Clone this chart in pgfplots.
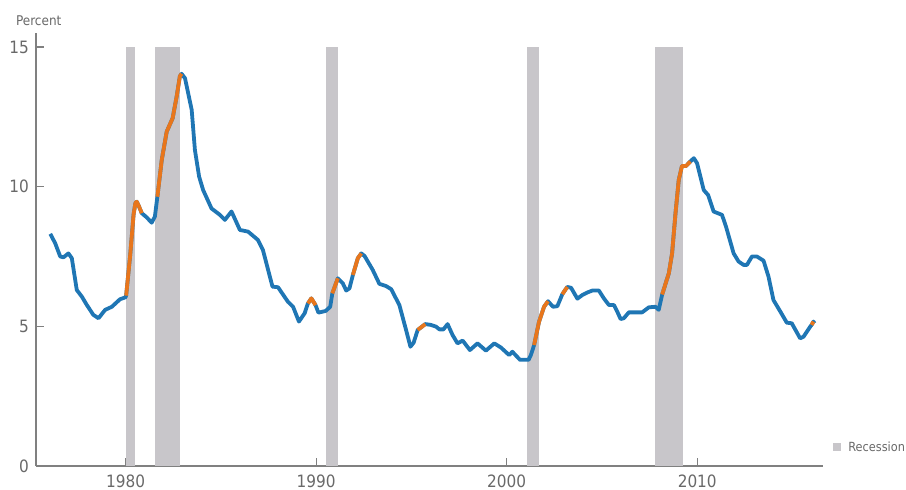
\documentclass[border=0pt]{standalone}
\usepackage{fontspec}
\setmainfont{DejaVu Sans Condensed}
\usepackage{pgfplots}
\pgfplotsset{compat=1.18}
\definecolor{lineblue}{RGB}{31,118,180}
\definecolor{lineorange}{RGB}{232,118,28}
\definecolor{recgray}{RGB}{200,198,202}
\definecolor{axisgray}{RGB}{128,128,128}
\definecolor{labelgray}{RGB}{105,105,105}

\pgfplotstableread{
x y
1976.05 8.31
1976.31 7.97
1976.57 7.50
1976.74 7.47
1977.00 7.61
1977.18 7.44
1977.44 6.30
1977.71 6.06
1977.97 5.76
1978.31 5.41
1978.58 5.29
1978.93 5.59
1979.28 5.70
1979.71 5.97
1980.00 6.04
1980.03 6.10
1980.25 7.60
1980.42 9.00
1980.52 9.42
1980.59 9.46
1980.70 9.30
1980.85 9.05
1981.11 8.90
1981.37 8.71
1981.54 8.93
1981.67 9.64
1981.90 10.96
1982.16 11.97
1982.47 12.45
1982.68 13.22
1982.85 13.95
1982.94 14.04
1983.12 13.88
1983.47 12.75
1983.64 11.31
1983.86 10.36
1984.07 9.88
1984.51 9.22
1984.95 8.99
1985.21 8.81
1985.56 9.11
1986.00 8.45
1986.43 8.39
1986.95 8.09
1987.21 7.73
1987.71 6.42
1988.00 6.40
1988.52 5.88
1988.79 5.70
1989.10 5.17
1989.40 5.47
1989.57 5.82
1989.75 6.00
1989.97 5.76
1990.12 5.49
1990.50 5.55
1990.74 5.70
1990.85 6.18
1991.14 6.72
1991.40 6.54
1991.58 6.28
1991.75 6.36
1991.93 6.84
1992.19 7.44
1992.37 7.61
1992.54 7.52
1992.97 7.02
1993.32 6.52
1993.67 6.44
1993.94 6.33
1994.37 5.76
1994.72 4.87
1994.95 4.27
1995.12 4.42
1995.33 4.87
1995.73 5.08
1996.03 5.05
1996.29 4.99
1996.47 4.89
1996.68 4.89
1996.90 5.08
1997.16 4.69
1997.42 4.39
1997.69 4.49
1998.07 4.15
1998.47 4.39
1998.91 4.13
1999.35 4.39
1999.70 4.24
2000.13 3.97
2000.30 4.09
2000.70 3.80
2001.15 3.80
2001.27 3.97
2001.44 4.33
2001.70 5.17
2001.96 5.70
2002.17 5.90
2002.43 5.70
2002.66 5.72
2002.92 6.15
2003.18 6.41
2003.38 6.38
2003.71 5.99
2003.97 6.12
2004.23 6.21
2004.49 6.28
2004.84 6.28
2005.10 6.00
2005.37 5.76
2005.63 5.76
2005.80 5.53
2005.98 5.26
2006.15 5.29
2006.41 5.50
2007.11 5.50
2007.46 5.68
2007.81 5.70
2007.98 5.59
2008.16 6.14
2008.51 6.90
2008.68 7.61
2008.86 9.05
2009.03 10.24
2009.20 10.74
2009.41 10.74
2009.64 10.90
2009.82 11.02
2009.99 10.84
2010.34 9.88
2010.57 9.70
2010.86 9.11
2011.30 8.99
2011.51 8.57
2011.91 7.61
2012.17 7.32
2012.43 7.20
2012.61 7.20
2012.87 7.50
2013.13 7.50
2013.48 7.35
2013.74 6.78
2014.00 5.94
2014.36 5.53
2014.70 5.13
2014.96 5.11
2015.40 4.57
2015.58 4.63
2015.93 4.99
2016.00 5.05
2016.10 5.17
2016.15 5.11
}\rate

\begin{document}
\begin{tikzpicture}
\begin{axis}[
  scale only axis, width=393.5pt, height=216.5pt,
  xmin=1975.3, xmax=2016.6, ymin=0, ymax=15.5,
  axis x line*=bottom, axis y line*=left,
  axis line style={axisgray, line width=0.6pt},
  xtick={1980,1990,2000,2010}, ytick={0,5,10,15},
  tick align=inside, major tick length=4pt,
  tick style={axisgray, line width=0.6pt},
  /pgf/number format/assume math mode=true,
  xticklabel style={/pgf/number format/1000 sep={}},
  ticklabel style={font=\fontsize{8.5}{10}\selectfont, text=labelgray},
  xticklabel shift=1pt, yticklabel shift=0pt,
  clip=false,
]
% recession bars
\addplot[fill=recgray, draw=none] coordinates {(1980.03,15) (1980.50,15)} \closedcycle;
\addplot[fill=recgray, draw=none] coordinates {(1981.54,15) (1982.85,15)} \closedcycle;
\addplot[fill=recgray, draw=none] coordinates {(1990.50,15) (1991.13,15)} \closedcycle;
\addplot[fill=recgray, draw=none] coordinates {(2001.07,15) (2001.70,15)} \closedcycle;
\addplot[fill=recgray, draw=none] coordinates {(2007.77,15) (2009.24,15)} \closedcycle;

\addplot[lineblue, line width=1.9pt, line join=round] table {\rate};

% rising spells
\addplot[lineorange, line width=1.9pt, line join=round] coordinates {
 (1980.03,6.10) (1980.25,7.60) (1980.42,9.00) (1980.52,9.42) (1980.59,9.46) (1980.70,9.30) (1980.85,9.05)};
\addplot[lineorange, line width=1.9pt, line join=round] coordinates {
 (1981.67,9.64) (1981.90,10.96) (1982.16,11.97) (1982.47,12.45) (1982.68,13.22) (1982.85,13.95) (1982.94,14.04)};
\addplot[lineorange, line width=1.9pt, line join=round] coordinates {
 (1989.57,5.82) (1989.75,6.00) (1989.97,5.76)};
\addplot[lineorange, line width=1.9pt, line join=round] coordinates {
 (1990.85,6.18) (1991.14,6.72)};
\addplot[lineorange, line width=1.9pt, line join=round] coordinates {
 (1991.93,6.84) (1992.19,7.44) (1992.37,7.61)};
\addplot[lineorange, line width=1.9pt, line join=round] coordinates {
 (1995.33,4.87) (1995.73,5.08)};
\addplot[lineorange, line width=1.9pt, line join=round] coordinates {
 (2001.44,4.33) (2001.70,5.17) (2001.96,5.70) (2002.17,5.90)};
\addplot[lineorange, line width=1.9pt, line join=round] coordinates {
 (2002.92,6.15) (2003.18,6.41)};
\addplot[lineorange, line width=1.9pt, line join=round] coordinates {
 (2008.16,6.14) (2008.51,6.90) (2008.68,7.61) (2008.86,9.05) (2009.03,10.24) (2009.20,10.74) (2009.41,10.74) (2009.64,10.90)};
\addplot[lineorange, line width=1.9pt, line join=round] coordinates {
 (2016.00,5.05) (2016.10,5.17)};
\end{axis}
\node[anchor=base west, font=\fontsize{6.7}{8}\selectfont, text=labelgray]
  at ([xshift=-13.5pt, yshift=4pt]current axis.north west) {Percent};
\fill[recgray] ([xshift=5pt, yshift=7.5pt]current axis.south east) rectangle ++(4pt,4pt);
\node[anchor=west, font=\fontsize{6.3}{8}\selectfont, text=labelgray, inner sep=0pt]
  at ([xshift=12.5pt, yshift=9.5pt]current axis.south east) {Recession};
\pgfresetboundingbox
\path ([shift={(-18pt,-11.5pt)}]current axis.south west) rectangle ([shift={(41.5pt,16.5pt)}]current axis.north east);
\end{tikzpicture}
\end{document}
